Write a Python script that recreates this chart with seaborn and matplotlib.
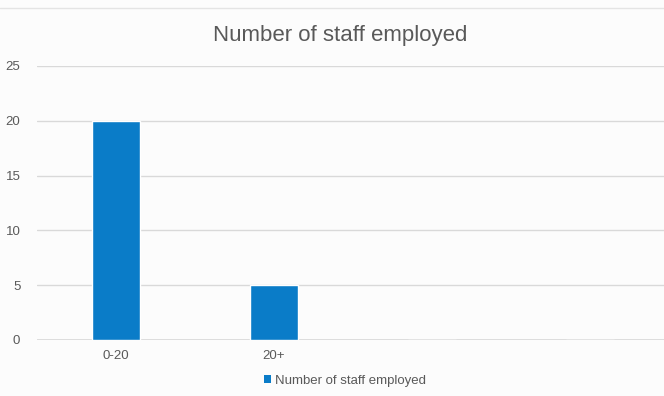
import matplotlib
matplotlib.use("Agg")
import matplotlib.pyplot as plt
import seaborn as sns
import pandas as pd
from matplotlib.patches import Patch

categories = ["0-20", "20+", "", " "]
staff = [20, 5, 0, 0]
series_name = "Number of staff employed"
y_ticks = [0, 5, 10, 15, 20, 25]

bar_color = "#0a7cc8"
text_color = "#595959"
grid_color = "#d9d9d9"
bg = "#fcfcfc"

df = pd.DataFrame({"category": categories, "value": staff})

sns.set_theme(style="white")
plt.rcParams["font.family"] = ["Liberation Sans", "DejaVu Sans"]

fig = plt.figure(figsize=(6.64, 3.96), dpi=100, facecolor=bg)
ax = fig.add_axes([37 / 664, 1 - 340 / 396, 632 / 664, 274 / 396], facecolor=bg)

sns.barplot(data=df, x="category", y="value", color=bar_color, width=0.31,
            saturation=1, ax=ax, zorder=3)

ax.set_xlim(-0.5, 3.5)
ax.set_ylim(0, 25)
ax.set_yticks(y_ticks)
ax.yaxis.grid(True, color=grid_color, linewidth=1, zorder=0)
ax.set_axisbelow(True)
for s in ax.spines.values():
    s.set_visible(False)
ax.axhline(0, color=grid_color, linewidth=1.2, zorder=2)
ax.set_xlabel("")
ax.set_ylabel("")
ax.tick_params(axis="both", length=0, labelsize=9.5, colors=text_color)
ax.tick_params(axis="y", pad=12)
ax.tick_params(axis="x", pad=7)

fig.text(0.512, 1 - 35 / 396, series_name, ha="center", va="center",
         fontsize=16, color=text_color)

# faint frame line along the top
fig.add_artist(plt.Line2D([0, 1], [1 - 8 / 396, 1 - 8 / 396],
                          color="#e4e4e4", linewidth=1))

handle = Patch(facecolor=bar_color, edgecolor="none")
fig.legend([handle], [series_name], loc="center",
           bbox_to_anchor=(0.52, 1 - 381 / 396), frameon=False,
           fontsize=9.5, labelcolor=text_color, handlelength=0.55,
           handleheight=0.55, handletextpad=0.3)

fig.savefig("out.png", dpi=100, facecolor=bg)
